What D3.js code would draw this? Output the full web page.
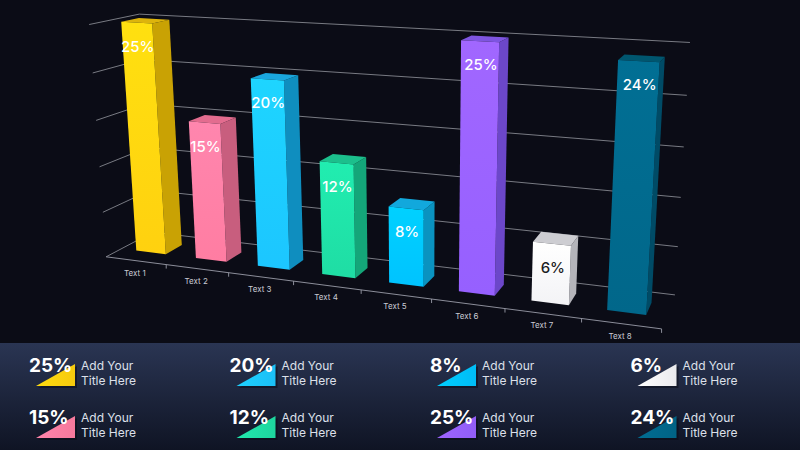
<!DOCTYPE html>
<html>
<head>
<meta charset="utf-8">
<script src="https://cdn.jsdelivr.net/npm/d3@7"></script>
<style>
  html, body { margin: 0; padding: 0; background: #0b0c16; }
  svg { display: block; font-family: Inter, "Noto Sans", sans-serif; }
</style>
</head>
<body>
<svg id="chart" width="800" height="450"></svg>
<script>
'use strict';

const WIDTH = 800;
const HEIGHT = 450;

// chart data
const categories = ["Text 1", "Text 2", "Text 3", "Text 4", "Text 5", "Text 6", "Text 7", "Text 8"];
const values = [25, 15, 20, 12, 8, 25, 6, 24];
const valueTicks = [0, 5, 10, 15, 20, 25];
const frontColors = ["#FFD10F", "#FF7DA2", "#1CC6FF", "#1FDDA4", "#00C3FF", "#9660FF", "#F3F3F6", "#01678A"];
const sideColors = ["#C9A204", "#C85E7E", "#0F8EBF", "#14A679", "#0A93C0", "#6C47C9", "#B4B4BA", "#004B66"];
const topColors = ["#DDB40C", "#E36C8F", "#1AA6DD", "#1CBF8C", "#12A8DC", "#7E55E0", "#CDCDD2", "#00566F"];
const labelColors = ["#fff", "#fff", "#fff", "#fff", "#fff", "#fff", "#1b1b22", "#fff"];
const legendTitle = ["Add Your", "Title Here"];

// world scales: category, value and depth all mapped to [0, 1]
const x = d3.scaleBand().domain(categories).range([0, 1]).paddingInner(0.5).paddingOuter(0.25);
const xEdge = d3.scaleLinear().domain([0, categories.length]).range([0, 1]);
const y = d3.scaleLinear().domain([0, 25]).range([0, 1]);
const BAR_Z0 = 0.32, BAR_Z1 = 0.68;

// view anchors of the chart box (edge index, value, depth) -> screen, used to fit the camera
const viewAnchors = [
    [0, 0, 0, 105, 257], [1, 0, 0, 166, 265], [2, 0, 0, 228, 273], [3, 0, 0, 293, 282],
    [4, 0, 0, 360, 291], [5, 0, 0, 432, 298], [6, 0, 0, 505, 308], [7, 0, 0, 582, 318],
    [8, 0, 0, 662, 329],
    [0, 5, 0, 103, 212], [0, 10, 0, 100, 166], [0, 15, 0, 97, 120], [0, 20, 0, 93, 73], [0, 25, 0, 90, 25],
    [0, 25, 1, 137, 14], [0, 0, 1, 155, 232],
    [8, 25, 1, 690, 43], [8, 20, 1, 687, 95], [8, 15, 1, 684, 147], [8, 10, 1, 682, 197],
    [8, 5, 1, 677, 247], [8, 0, 1, 674, 295]
];

/**
 * Least squares fit of a 3x4 projective camera (DLT)
 */
function fitCamera(anchors) {
    const n = 11;
    const M = Array.from({ length: n }, () => new Array(n + 1).fill(0));
    const addRow = (row, rhs) => {
        for (let i = 0; i < n; ++i) {
            for (let j = 0; j < n; ++j) M[i][j] += row[i] * row[j];
            M[i][n] += row[i] * rhs;
        }
    };
    anchors.forEach(([k, v, z, sx, sy]) => {
        const X = xEdge(k), Y = y(v), Z = z, u = sx / WIDTH, w = sy / HEIGHT;
        addRow([X, Y, Z, 1, 0, 0, 0, 0, -u * X, -u * Y, -u * Z], u);
        addRow([0, 0, 0, 0, X, Y, Z, 1, -w * X, -w * Y, -w * Z], w);
    });
    for (let c = 0; c < n; ++c) {
        let p = c;
        for (let r = c + 1; r < n; ++r) if (Math.abs(M[r][c]) > Math.abs(M[p][c])) p = r;
        [M[c], M[p]] = [M[p], M[c]];
        for (let r = 0; r < n; ++r) {
            if (r === c) continue;
            const f = M[r][c] / M[c][c];
            for (let j = c; j <= n; ++j) M[r][j] -= f * M[c][j];
        }
    }
    return M.map((row, i) => row[n] / row[i]);
}

const P = fitCamera(viewAnchors);

function project(X, Y, Z) {
    const d = P[8] * X + P[9] * Y + P[10] * Z + 1;
    return [
        WIDTH * (P[0] * X + P[1] * Y + P[2] * Z + P[3]) / d,
        HEIGHT * (P[4] * X + P[5] * Y + P[6] * Z + P[7]) / d
    ];
}

const poly = pts => "M" + pts.map(p => project(...p).join(",")).join("L") + "Z";
const seg = (a, b) => "M" + project(...a).join(",") + "L" + project(...b).join(",");

const svg = d3.select("#chart");
const defs = svg.append("defs");

svg.append("rect").attr("width", WIDTH).attr("height", HEIGHT).attr("fill", "#0b0c16");

// gradients for the front faces and legend triangles
categories.forEach((c, i) => {
    const g = defs.append("linearGradient").attr("id", "front" + i)
        .attr("x1", 0).attr("y1", 0).attr("x2", 0).attr("y2", 1);
    g.append("stop").attr("offset", 0).attr("stop-color", d3.color(frontColors[i]).brighter(0.2));
    g.append("stop").attr("offset", 1).attr("stop-color", frontColors[i]);
    const t = defs.append("linearGradient").attr("id", "tri" + i)
        .attr("x1", 0).attr("y1", 0).attr("x2", 1).attr("y2", 0);
    t.append("stop").attr("offset", 0).attr("stop-color", d3.color(frontColors[i]).brighter(0.15));
    t.append("stop").attr("offset", 1).attr("stop-color", d3.color(frontColors[i]).darker(0.1));
});

// gridlines: back wall and left wall
const grid = svg.append("g").attr("fill", "none").attr("stroke", "#85878f").attr("stroke-width", 0.9);
grid.selectAll("path.back").data(valueTicks).enter().append("path")
    .attr("class", "back")
    .attr("d", t => seg([0, y(t), 1], [1, y(t), 1]));
grid.selectAll("path.side").data(valueTicks).enter().append("path")
    .attr("class", "side")
    .attr("d", t => seg([0, y(t), 0], [0, y(t), 1]));

// category axis line and ticks
const axis = svg.append("g").attr("fill", "none").attr("stroke", "#9a9ca8").attr("stroke-width", 0.9);
axis.append("path").attr("d", seg([0, 0, 0], [1, 0, 0]));
axis.selectAll("path.tick").data(d3.range(1, categories.length + 1)).enter().append("path")
    .attr("class", "tick")
    .attr("d", k => {
        const [px, py] = project(xEdge(k), 0, 0);
        return "M" + px + "," + py + "L" + px + "," + (py + 4);
    });

// bars
const bars = svg.selectAll("g.bar")
    .data(categories.map((c, i) => ({ c: c, i: i, v: values[i] })))
    .enter()
    .append("g")
    .attr("class", "bar");

bars.append("path")
    .attr("fill", d => sideColors[d.i])
    .attr("d", d => {
        const x1 = x(d.c) + x.bandwidth(), h = y(d.v);
        return poly([[x1, 0, BAR_Z0], [x1, 0, BAR_Z1], [x1, h, BAR_Z1], [x1, h, BAR_Z0]]);
    });
bars.append("path")
    .attr("fill", d => topColors[d.i])
    .attr("d", d => {
        const x0 = x(d.c), x1 = x0 + x.bandwidth(), h = y(d.v);
        return poly([[x0, h, BAR_Z0], [x1, h, BAR_Z0], [x1, h, BAR_Z1], [x0, h, BAR_Z1]]);
    });
bars.append("path")
    .attr("fill", d => "url(#front" + d.i + ")")
    .attr("d", d => {
        const x0 = x(d.c), x1 = x0 + x.bandwidth(), h = y(d.v);
        return poly([[x0, 0, BAR_Z0], [x1, 0, BAR_Z0], [x1, h, BAR_Z0], [x0, h, BAR_Z0]]);
    });
bars.append("text")
    .attr("text-anchor", "middle")
    .attr("font-size", 15)
    .attr("font-weight", 500)
    .attr("fill", d => labelColors[d.i])
    .attr("x", d => project(x(d.c) + x.bandwidth() / 2, y(d.v), BAR_Z0)[0] + 1)
    .attr("y", d => project(x(d.c) + x.bandwidth() / 2, y(d.v), BAR_Z0)[1] + 29)
    .text(d => d.v + "%");

// category labels
svg.append("g").selectAll("text").data(categories).enter().append("text")
    .attr("text-anchor", "middle")
    .attr("font-size", 8)
    .attr("fill", "#c9cbd4")
    .attr("x", c => project(x(c) + x.bandwidth() / 2, 0, 0)[0] - 1)
    .attr("y", c => project(x(c) + x.bandwidth() / 2, 0, 0)[1] + 15)
    .text(c => c);

// legend panel
const panelGrad = defs.append("linearGradient").attr("id", "panel")
    .attr("x1", 0).attr("y1", 0).attr("x2", 0).attr("y2", 1);
panelGrad.append("stop").attr("offset", 0).attr("stop-color", "#2a3553");
panelGrad.append("stop").attr("offset", 1).attr("stop-color", "#0f1424");
svg.append("rect").attr("x", 0).attr("y", 343).attr("width", WIDTH).attr("height", HEIGHT - 343)
    .attr("fill", "url(#panel)");

const legend = svg.selectAll("g.legend")
    .data(categories.map((c, i) => ({ i: i, v: values[i] })))
    .enter()
    .append("g")
    .attr("class", "legend")
    .attr("transform", d => "translate(" + (29 + Math.floor(d.i / 2) * 200.5) + "," + (d.i % 2) * 52 + ")");

legend.append("path")
    .attr("fill", "#070a14").attr("opacity", 0.5)
    .attr("d", "M9,388L48,388L48,366Z");
legend.append("path")
    .attr("fill", d => "url(#tri" + d.i + ")")
    .attr("d", "M7,386L46,386L46,364Z");
legend.append("text")
    .attr("x", 0).attr("y", 372)
    .attr("font-size", 19).attr("font-weight", 700).attr("fill", "#fff")
    .text(d => d.v + "%");
legend.selectAll("text.title").data(legendTitle).enter().append("text")
    .attr("class", "title")
    .attr("x", 52)
    .attr("y", (t, j) => 370 + j * 14.5)
    .attr("font-size", 12)
    .attr("fill", "#dde0ea")
    .text(t => t);
</script>
</body>
</html>
